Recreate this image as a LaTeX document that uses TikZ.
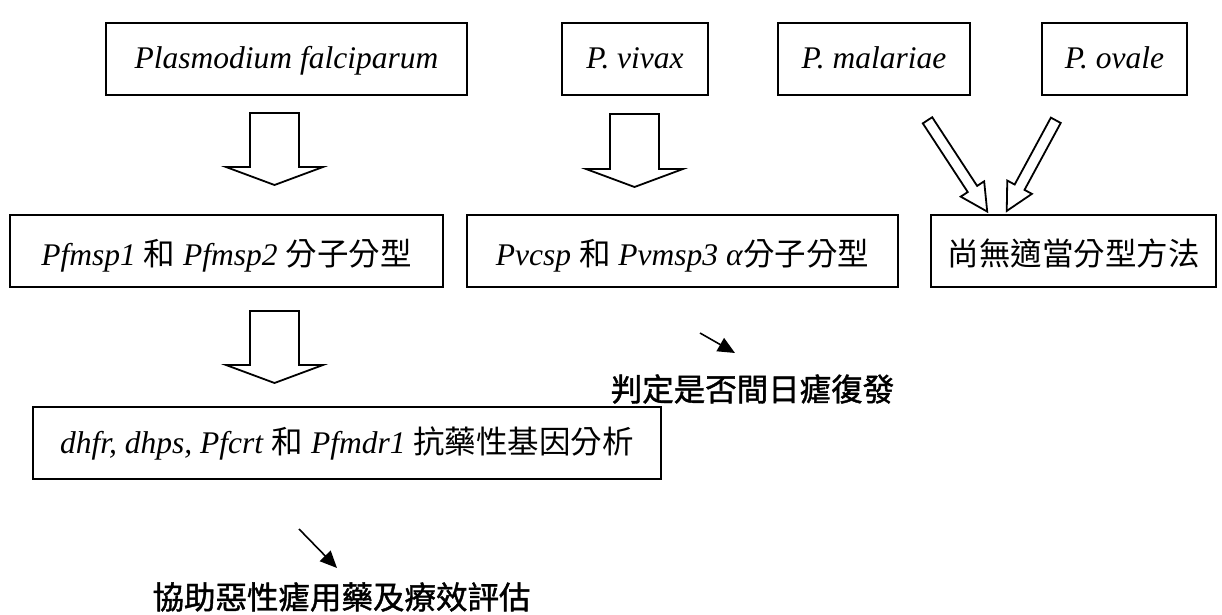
\documentclass[tikz,border=0pt]{standalone}
\usepackage{fontspec}
\setmainfont{Liberation Serif}
\newfontfamily\cjk{Noto Sans CJK TC}
\newfontfamily\cjkm{Noto Sans CJK TC}[FakeBold=1.3]
\usetikzlibrary{arrows.meta,calc}

\newcommand\blockarrow[5]{%
  \path (#1); \pgfgetlastxy{\baax}{\baay}%
  \path (#2); \pgfgetlastxy{\babx}{\baby}%
  \pgfmathsetmacro\baang{atan2(\baby-\baay,\babx-\baax)}%
  \pgfmathsetmacro\balen{veclen(\babx-\baax,\baby-\baay)}%
  \begin{scope}[shift={(#1)},rotate=\baang]
    \draw[blockstyle] (0pt,#3pt) -- ({\balen pt-#5pt},#3pt) -- ({\balen pt-#5pt},#4pt)
      -- (\balen pt,0pt) -- ({\balen pt-#5pt},-#4pt) -- ({\balen pt-#5pt},-#3pt)
      -- (0pt,-#3pt) -- cycle;
  \end{scope}}

\tikzset{
  box/.style={draw=black, line width=1pt, rectangle, minimum height=36pt,
    inner sep=0pt, text height=12pt, text depth=2pt,
    font=\fontsize{15.75}{18}\selectfont},
  lowtext/.style={text height=14.5pt, text depth=0pt},
  blockstyle/.style={draw=black, line width=0.9pt, fill=white, line join=miter},
  thinarr/.style={draw=black, line width=0.8pt, -{Triangle[length=8.5pt,width=7.5pt]}},
  lbl/.style={inner sep=0pt, font=\fontsize{15.75}{18}\selectfont\cjkm}
}

\begin{document}
\begin{tikzpicture}[x=0.5pt,y=-0.5pt]
\useasboundingbox (0,0) rectangle (1222,615);

% row 1
\node[box, minimum width=180.5pt] (pf) at (286.5,59) {\textit{Plasmodium falciparum}};
\node[box, minimum width=73pt] (pv) at (635,59) {\textit{P. vivax}};
\node[box, minimum width=96pt] (pm) at (874,59) {\textit{P. malariae}};
\node[box, minimum width=72.5pt] (po) at (1114.5,59) {\textit{P. ovale}};

% row 2
\node[box, lowtext, minimum width=216.5pt] (pfm) at (226.5,251) {\textit{Pfmsp1} {\cjk 和} \textit{Pfmsp2} {\cjk 分子分型}\hspace{9pt}};
\node[box, lowtext, minimum width=215.5pt] (pvm) at (682.5,251) {\textit{Pvcsp} {\cjk 和} \textit{Pvmsp3} \textit{α}{\cjk 分子分型}};
\node[box, lowtext, minimum width=142.5pt] (none) at (1073.5,251) {\cjk 尚無適當分型方法};

% row 3
\node[box, minimum width=314pt] (drug) at (347,443) {\textit{dhfr, dhps, Pfcrt} {\cjk 和} \textit{Pfmdr1} {\cjk 抗藥性基因分析}};

% labels
\node[lbl] (relapse) at (752.5,389) {判定是否間日瘧復發};
\node[lbl] (assess) at (341.5,597) {協助惡性瘧用藥及療效評估};

% block arrows
\coordinate (a1s) at (274.5,113); \coordinate (a1e) at (274.5,185);
\coordinate (a2s) at (634.5,114); \coordinate (a2e) at (634.5,187);
\coordinate (a3s) at (274.5,311); \coordinate (a3e) at (274.5,383);
\coordinate (d1s) at (927.5,120.3); \coordinate (d1e) at (987.3,211.7);
\coordinate (d2s) at (1055.8,120.3); \coordinate (d2e) at (1006.7,211);
\blockarrow{a1s}{a1e}{12.25}{24.25}{9}
\blockarrow{a2s}{a2e}{12.25}{24.25}{9}
\blockarrow{a3s}{a3e}{12.25}{24.25}{9}
\blockarrow{d1s}{d1e}{2.8}{7}{13.5}
\blockarrow{d2s}{d2e}{2.8}{7}{13.5}

% thin arrows
\coordinate (t1s) at (700,333); \coordinate (t1e) at (735,353);
\coordinate (t2s) at (299,529); \coordinate (t2e) at (337,568);
\draw[thinarr] (t1s) -- (t1e);
\draw[thinarr] (t2s) -- (t2e);
\end{tikzpicture}
\end{document}
